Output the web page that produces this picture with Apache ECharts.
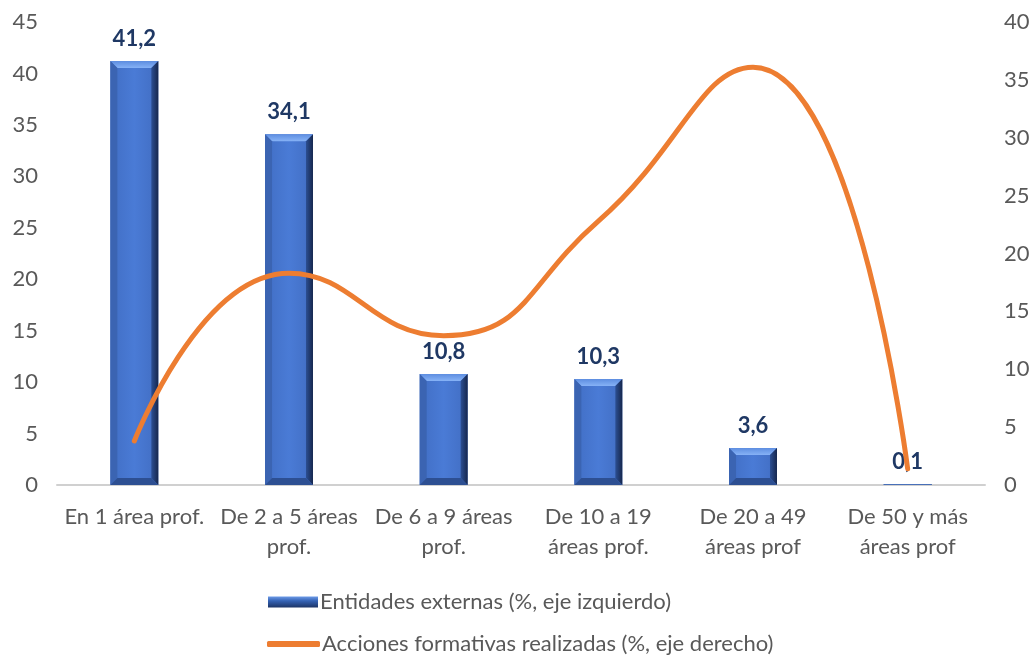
<!DOCTYPE html>
<html>
<head>
<meta charset="utf-8">
<script src="https://cdn.jsdelivr.net/npm/echarts@6/dist/echarts.min.js"></script>
<style>
  html, body { margin: 0; padding: 0; background: #ffffff; }
  #chart { width: 1033px; height: 655px; }
</style>
</head>
<body>
<div id="chart"></div>
<script>
// Categories (number of professional areas)
const categories = [
  'En 1 área prof.',
  'De 2 a 5 áreas\nprof.',
  'De 6 a 9 áreas\nprof.',
  'De 10 a 19\náreas prof.',
  'De 20 a 49\náreas prof',
  'De 50 y más\náreas prof'
];
// External entities (%, left axis)
const entidades = [41.2, 34.1, 10.8, 10.3, 3.6, 0.1];
// Training actions carried out (%, right axis)
const acciones = [3.8, 18.3, 12.9, 22.8, 36.1, 1.4];

const leftTicks = { min: 0, max: 45, interval: 5 };
const rightTicks = { min: 0, max: 40, interval: 5 };

const nameBars = 'Entidades externas (%, eje izquierdo)';
const nameLine = 'Acciones formativas realizadas (%, eje derecho)';

const FONT = 'Lato, "Open Sans", sans-serif';
const GREY = '#595959';
const FS = 22;

function fmt(v) { return v.toFixed(1).replace('.', ','); }

// Bevelled bar: a flat face framed by four shaded trapezoids
function renderBevelBar(params, api) {
  const idx = api.value(0);
  const val = api.value(1);
  const topPt = api.coord([idx, val]);
  const basePt = api.coord([idx, 0]);
  const w = api.size([1, 0])[0] * 0.31;
  const l = topPt[0] - w / 2, r = topPt[0] + w / 2;
  const t = topPt[1], b = basePt[1];
  const h = b - t;
  const bv = Math.max(0, Math.min(7, h / 2, w / 2));
  const children = [];
  children.push({ type: 'rect', shape: { x: l, y: t, width: w, height: h },
    style: { fill: new echarts.graphic.LinearGradient(0, 0, 1, 0, [
      { offset: 0, color: '#416ec4' }, { offset: 0.5, color: '#4a7bd6' }, { offset: 1, color: '#416dc2' }]) } });
  if (bv > 0) {
    // top bevel
    children.push({ type: 'polygon', shape: { points: [[l, t], [r, t], [r - bv, t + bv], [l + bv, t + bv]] },
      style: { fill: new echarts.graphic.LinearGradient(0, 0, 0, 1, [
        { offset: 0, color: '#5d8de0' }, { offset: 1, color: '#86b2f6' }]) } });
    // left bevel
    children.push({ type: 'polygon', shape: { points: [[l, t], [l + bv, t + bv], [l + bv, b - bv], [l, b]] },
      style: { fill: '#3b64b2' } });
    // right bevel
    children.push({ type: 'polygon', shape: { points: [[r, t], [r, b], [r - bv, b - bv], [r - bv, t + bv]] },
      style: { fill: new echarts.graphic.LinearGradient(0, 0, 1, 0, [
        { offset: 0, color: '#2c4f93' }, { offset: 1, color: '#16274d' }]) } });
    // bottom bevel
    children.push({ type: 'polygon', shape: { points: [[l, b], [l + bv, b - bv], [r - bv, b - bv], [r, b]] },
      style: { fill: '#2d4f92' } });
  }
  children.push({ type: 'text', x: topPt[0], y: t - 11,
    style: { text: fmt(val), fill: '#1f3864', font: 'bold ' + FS + 'px ' + FONT, align: 'center', verticalAlign: 'bottom' } });
  return { type: 'group', children: children };
}

const chart = echarts.init(document.getElementById('chart'), null, { renderer: 'canvas' });

const axisText = { color: GREY, fontSize: FS, fontFamily: FONT };

chart.setOption({
  animation: false,
  backgroundColor: '#ffffff',
  grid: { left: 57, right: 48, top: 22, bottom: 170, containLabel: false },
  legend: [
    {
      left: 263, top: 586,
      itemWidth: 50, itemHeight: 11,
      textStyle: Object.assign({ padding: [0, 0, 0, -3] }, axisText),
      data: [{ name: nameBars, icon: 'rect', itemStyle: { color: new echarts.graphic.LinearGradient(0, 0, 0, 1, [
        { offset: 0, color: '#6d9be8' }, { offset: 0.4, color: '#3462b4' }, { offset: 1, color: '#1c3466' }]) } }]
    },
    {
      left: 262, top: 628,
      itemWidth: 53, itemHeight: 6,
      textStyle: Object.assign({ padding: [0, 0, 0, -3] }, axisText),
      data: [{ name: nameLine, icon: 'roundRect', itemStyle: { color: '#ed7d31' } }]
    }
  ],
  xAxis: {
    type: 'category',
    data: categories,
    axisLine: { lineStyle: { color: '#d0d0d0', width: 2 } },
    axisTick: { show: false },
    axisLabel: Object.assign({ lineHeight: 30, margin: 17, interval: 0 }, axisText)
  },
  yAxis: [
    {
      type: 'value', min: leftTicks.min, max: leftTicks.max, interval: leftTicks.interval,
      splitLine: { show: false }, axisLine: { show: false }, axisTick: { show: false },
      axisLabel: Object.assign({ margin: 19 }, axisText)
    },
    {
      type: 'value', min: rightTicks.min, max: rightTicks.max, interval: rightTicks.interval,
      splitLine: { show: false }, axisLine: { show: false }, axisTick: { show: false },
      axisLabel: Object.assign({ margin: 19 }, axisText)
    }
  ],
  series: [
    {
      name: nameBars,
      type: 'custom',
      yAxisIndex: 0,
      renderItem: renderBevelBar,
      encode: { x: 0, y: 1 },
      data: entidades.map((v, i) => [i, v]),
      z: 2
    },
    {
      name: nameLine,
      type: 'line',
      yAxisIndex: 1,
      data: acciones,
      smooth: 0.5,
      symbol: 'none',
      showSymbol: false,
      lineStyle: { color: '#ed7d31', width: 5, cap: 'round' },
      itemStyle: { color: '#ed7d31' },
      z: 3
    }
  ]
});
</script>
</body>
</html>
